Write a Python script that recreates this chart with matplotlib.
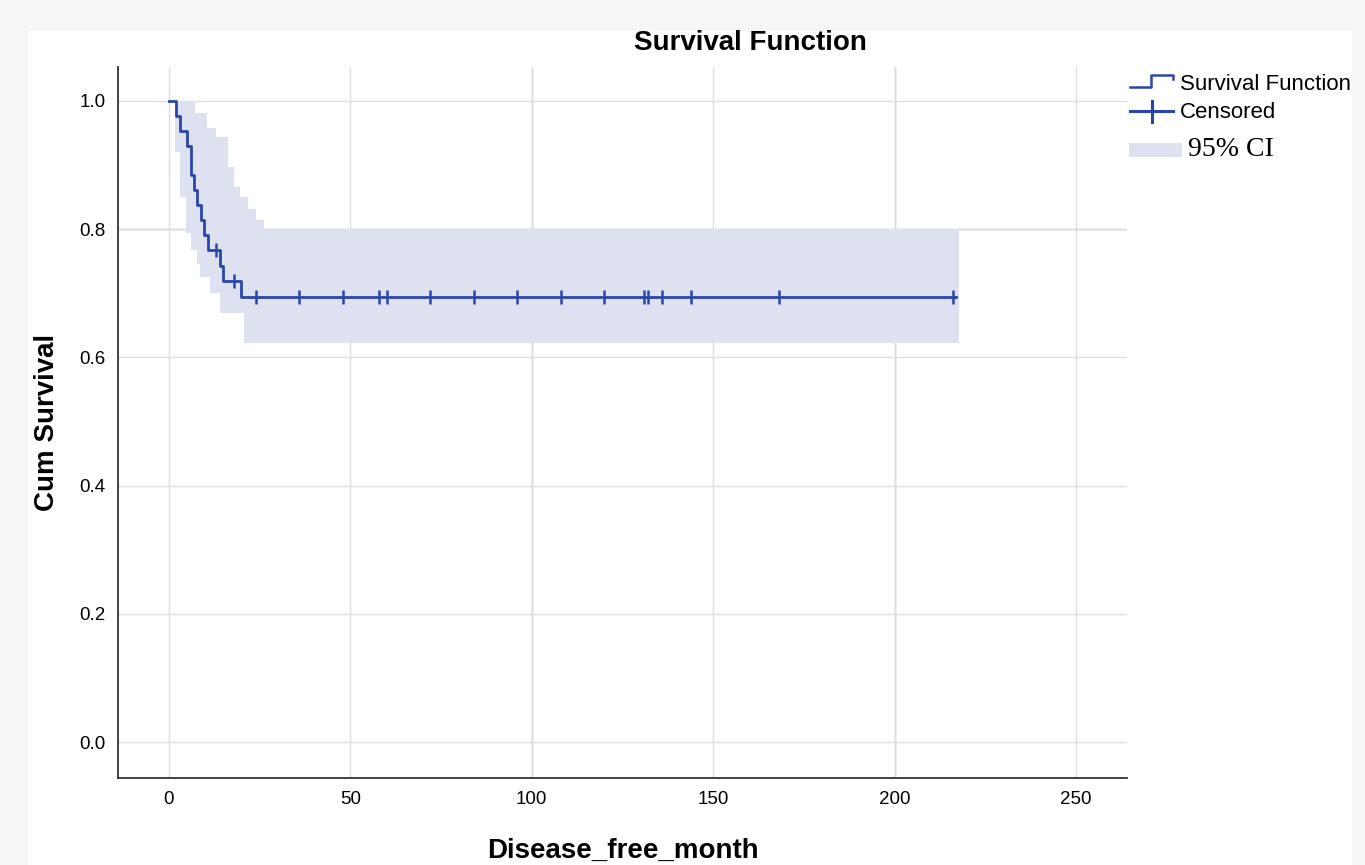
import numpy as np
import matplotlib
matplotlib.use("Agg")
import matplotlib.pyplot as plt
from matplotlib.patches import Rectangle
from matplotlib.lines import Line2D

plt.rcParams['font.family'] = ['Liberation Sans', 'DejaVu Sans']

# Kaplan-Meier step curve (event times, survival after each step)
event_time = [0, 1.9, 3.0, 4.9, 6.0, 6.9, 7.9, 8.8, 9.7, 10.7, 14.0, 15.0, 20.0, 217.0]
surv = [1.0, 0.977, 0.953, 0.930, 0.884, 0.861, 0.837, 0.814, 0.791, 0.767, 0.742, 0.719, 0.694, 0.694]

# censored observations
censor_time = [13, 18, 24, 36, 48, 58, 60, 72, 84, 96, 108, 120, 131, 132, 136, 144, 168, 216]

# 95% CI band (step edges)
ci_time = [0, 1.8, 3.0, 4.6, 6.1, 7.2, 7.7, 8.6, 10.6, 11.3, 13.1, 14.0, 16.3, 18.0,
           19.6, 20.8, 21.7, 24.0, 26.3, 217.8]
ci_upper = [1.0, 1.0, 1.0, 1.0, 1.0, 0.981, 0.981, 0.981, 0.958, 0.958, 0.944, 0.944,
            0.897, 0.866, 0.850, 0.850, 0.832, 0.814, 0.800, 0.800]
ci_lower = [1.0, 0.921, 0.850, 0.794, 0.767, 0.767, 0.746, 0.725, 0.725, 0.700, 0.700,
            0.669, 0.669, 0.669, 0.669, 0.622, 0.622, 0.622, 0.622, 0.622]

x_ticks = [0, 50, 100, 150, 200, 250]
y_ticks = [0.0, 0.2, 0.4, 0.6, 0.8, 1.0]

line_col = '#2a46a8'
band_col = '#dde1f0'

fig = plt.figure(figsize=(13.65, 8.65), dpi=100)
fig.patch.set_facecolor('#f7f5f5')
fig.patches.append(Rectangle((28 / 1365, 0), (1352 - 28) / 1365, 1 - 31 / 865,
                             transform=fig.transFigure, facecolor='white',
                             edgecolor='none', zorder=-10))

ax = fig.add_axes([118 / 1365, 1 - 778 / 865, (1127 - 118) / 1365, (778 - 67) / 865])
ax.set_facecolor('none')

ax.fill_between(ci_time, ci_lower, ci_upper, step='post', color=band_col,
                linewidth=0, zorder=1)
ax.step(event_time, surv, where='post', color=line_col, linewidth=2.0, zorder=3)

# censor ticks sit on the curve
idx = np.searchsorted(event_time, censor_time, side='right') - 1
censor_surv = np.array(surv)[idx]
ax.plot(censor_time, censor_surv, linestyle='none', marker='|', markersize=10.5,
        markeredgewidth=1.8, color=line_col, zorder=4)

ax.set_xlim(-14.0, 264)
ax.set_ylim(-0.056, 1.053)
ax.set_xticks(x_ticks)
ax.set_yticks(y_ticks)
ax.set_yticklabels([f'{v:.1f}' for v in y_ticks])
ax.tick_params(length=0, labelsize=13.5, pad=9)
ax.grid(True, color='#dedede', linewidth=1.0, zorder=0)
ax.set_axisbelow(True)
for v in [100, 200]:
    ax.axvline(v, color='#b8b8b8', linewidth=1.0, zorder=0.5)
ax.axhline(0.8, color='#b8b8b8', linewidth=1.0, zorder=0.5)

for s in ['top', 'right']:
    ax.spines[s].set_visible(False)
for s in ['left', 'bottom']:
    ax.spines[s].set_color('#333333')
    ax.spines[s].set_linewidth(1.3)

ax.set_xlabel('Disease_free_month', fontsize=20, fontweight='bold', labelpad=22)
ax.set_ylabel('Cum Survival', fontsize=20, fontweight='bold', labelpad=14)
fig.text(750 / 1365, 1 - 43 / 865, 'Survival Function', fontsize=20,
         fontweight='bold', ha='center', va='center')

# legend drawn in figure pixels
def fx(px):
    return px / 1365

def fy(py):
    return 1 - py / 865

fig.lines.append(Line2D([fx(1130), fx(1151), fx(1151), fx(1173), fx(1173)],
                        [fy(87), fy(87), fy(75), fy(75), fy(79)],
                        transform=fig.transFigure, color=line_col, linewidth=1.8))
fig.text(fx(1180), fy(84), 'Survival Function', fontsize=16, va='center', ha='left')

fig.lines.append(Line2D([fx(1130), fx(1173)], [fy(111), fy(111)],
                        transform=fig.transFigure, color=line_col, linewidth=2.2))
fig.lines.append(Line2D([fx(1152), fx(1152)], [fy(101), fy(122)],
                        transform=fig.transFigure, color=line_col, linewidth=2.2))
fig.text(fx(1180), fy(112), 'Censored', fontsize=16, va='center', ha='left')

fig.patches.append(Rectangle((fx(1129), fy(157)), fx(1182) - fx(1129), fy(143) - fy(157),
                             transform=fig.transFigure, facecolor=band_col,
                             edgecolor='none'))
fig.text(fx(1188), fy(150), '95% CI', fontsize=20, va='center', ha='left',
         family=['Liberation Serif', 'DejaVu Serif'])

plt.savefig('out.png', dpi=100, facecolor=fig.get_facecolor())
